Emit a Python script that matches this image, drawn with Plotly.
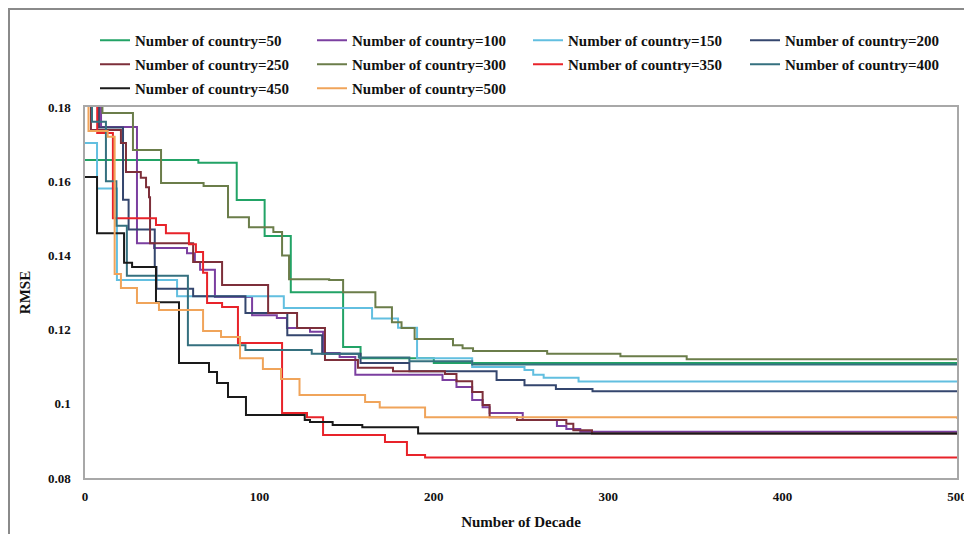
import plotly.graph_objects as go

# ---- data ----
x_50 = [0, 65, 87, 103, 118, 148, 158, 200, 500]
y_50 = [0.1657, 0.165, 0.1549, 0.1452, 0.1301, 0.1153, 0.1123, 0.111, 0.111]

x_100 = [0, 9.2, 29.8, 39.6, 58.5, 63, 66, 74.5, 95.8, 110, 115.8, 129, 136.5, 146, 155,
         205, 213, 222, 228, 232, 251, 270.6, 276, 284, 500]
y_100 = [0.19, 0.1746, 0.1433, 0.142, 0.1406, 0.1382, 0.1361, 0.1288, 0.1239, 0.1231, 0.1204,
         0.1194, 0.1137, 0.1126, 0.1078, 0.1064, 0.1045, 0.101, 0.0991, 0.0975, 0.0956, 0.094,
         0.0932, 0.0925, 0.0925]

x_150 = [0, 6.9, 18.3, 52.8, 114, 164.6, 179.5, 190.4, 222, 252, 257, 263, 283, 500]
y_150 = [0.1703, 0.158, 0.1334, 0.129, 0.1258, 0.123, 0.1205, 0.1123, 0.1099, 0.1091, 0.1078,
         0.107, 0.106, 0.106]

x_200 = [0, 8, 21.8, 25, 40, 41, 62, 92, 116, 136, 158, 186, 236, 252, 270, 291, 500]
y_200 = [0.19, 0.1745, 0.155, 0.147, 0.1369, 0.131, 0.129, 0.1245, 0.1185, 0.1135, 0.111,
         0.1088, 0.1064, 0.105, 0.104, 0.1034, 0.1034]

x_250 = [0, 3.4, 20.6, 23.5, 32, 35, 36.7, 37.3, 62, 78.6, 105, 121.6, 137.6, 156.5, 176.6,
         206.4, 213, 222, 228, 232, 247.7, 276, 280, 290.7, 500]
y_250 = [0.19, 0.1738, 0.1703, 0.1625, 0.1609, 0.1584, 0.1557, 0.1433, 0.1382, 0.132, 0.1245,
         0.1204, 0.1118, 0.1097, 0.1088, 0.108, 0.1061, 0.1032, 0.0997, 0.0964, 0.0956, 0.0946,
         0.0929, 0.092, 0.092]

x_300 = [0, 10, 27.5, 43.6, 68, 82, 94, 108, 113, 117, 140, 148, 166.5, 176, 181.5, 189,
         211, 216.5, 222.5, 265, 307, 345, 500]
y_300 = [0.19, 0.1784, 0.1684, 0.1595, 0.1587, 0.1503, 0.1476, 0.1463, 0.140, 0.1336, 0.1334,
         0.1301, 0.126, 0.122, 0.1204, 0.1175, 0.1158, 0.115, 0.1142, 0.1135, 0.1128, 0.112, 0.112]

x_350 = [0, 7, 16, 40.7, 46.4, 59.6, 63.6, 67.7, 70, 78.6, 87.7, 113, 127.3, 136.5, 172,
         184.6, 195, 500]
y_350 = [0.19, 0.173, 0.150, 0.1482, 0.146, 0.143, 0.1409, 0.1353, 0.1272, 0.1261, 0.1164,
         0.0975, 0.0964, 0.0916, 0.0897, 0.0862, 0.0855, 0.0855]

x_400 = [0, 4, 12, 18, 24, 59, 92, 130, 157, 186, 222, 500]
y_400 = [0.19, 0.176, 0.160, 0.148, 0.1345, 0.1158, 0.1145, 0.1135, 0.1125, 0.1115, 0.1106, 0.1106]

x_450 = [0, 6.9, 22.4, 27, 40.7, 53.9, 71.1, 75.7, 82, 92.3, 126, 129, 142, 159, 191, 500]
y_450 = [0.1611, 0.146, 0.138, 0.1369, 0.1274, 0.111, 0.1086, 0.1056, 0.1018, 0.097, 0.0956,
         0.0951, 0.0943, 0.0937, 0.092, 0.092]

x_500 = [0, 2, 13, 17, 20.6, 29.8, 42.4, 67.7, 78, 88.9, 102, 112.4, 123, 160.6, 169, 195, 500]
y_500 = [0.19, 0.1735, 0.172, 0.135, 0.1312, 0.1272, 0.1253, 0.1196, 0.118, 0.1123, 0.1094,
         0.1067, 0.1024, 0.1005, 0.099, 0.0964, 0.096]

names = ["Number of country=50", "Number of country=100", "Number of country=150",
         "Number of country=200", "Number of country=250", "Number of country=300",
         "Number of country=350", "Number of country=400", "Number of country=450",
         "Number of country=500"]

x_ticks = [0, 100, 200, 300, 400, 500]
y_ticks = [0.08, 0.1, 0.12, 0.14, 0.16, 0.18]

# ---- styling ----
series = [
    (x_50, y_50, "#22a366"),
    (x_100, y_100, "#7b3fa0"),
    (x_150, y_150, "#62bfe0"),
    (x_200, y_200, "#34466e"),
    (x_250, y_250, "#7d2f3a"),
    (x_300, y_300, "#6b7d4a"),
    (x_350, y_350, "#e8232a"),
    (x_400, y_400, "#35707f"),
    (x_450, y_450, "#1a1a1a"),
    (x_500, y_500, "#f0a45a"),
]
legend_ids = ["legend", "legend2", "legend3", "legend4"]

FONT = "Liberation Serif"
fig = go.Figure()
for i, ((xs, ys, col), nm) in enumerate(zip(series, names)):
    fig.add_trace(go.Scatter(
        x=xs, y=ys, mode="lines", name=nm, line=dict(color=col, width=2, shape="hv"),
        legend=legend_ids[i % 4], legendgroup=nm,
    ))

# page geometry: the page body has an 8px margin, so the figure starts at (8, 8)
OFF = 8
PAGE_W, PAGE_H = 972, 534
W, H = PAGE_W - OFF, PAGE_H - OFF
# target plot area in page pixels
P_L, P_R, P_T, P_B = 85, 957, 107, 478
L, R, T, B = P_L - OFF, W - (P_R - OFF), P_T - OFF, H - (P_B - OFF)
pw, ph = P_R - P_L, P_B - P_T

def px_to_paper_x(px):
    return (px - P_L) / pw

def py_to_paper_y(py):
    return (P_B - py) / ph

col_left = [95, 312, 528, 745]
legend_top = 24
leg_common = dict(
    yanchor="top", xanchor="left", bgcolor="rgba(0,0,0,0)",
    font=dict(family=FONT, size=15, color="#111", weight="bold"),
    itemwidth=30, tracegroupgap=1.5, traceorder="grouped",
)
layout_legends = {}
for lid, cx in zip(legend_ids, col_left):
    layout_legends[lid] = dict(x=px_to_paper_x(cx), y=py_to_paper_y(legend_top), **leg_common)

fig.update_layout(
    width=W, height=H,
    margin=dict(l=L, r=R, t=T, b=B, autoexpand=False),
    paper_bgcolor="white", plot_bgcolor="white",
    font=dict(family=FONT, color="#111"),
    showlegend=True,
    **layout_legends,
    xaxis=dict(
        range=[0, 500], tickvals=x_ticks, showgrid=False, zeroline=False,
        showline=True, mirror=True, linecolor="#a8a8a8", linewidth=1.5,
        ticks="", ticklabelstandoff=6, automargin=False,
        tickfont=dict(family=FONT, size=13, color="#111", weight="bold"),
        title=dict(text="<b>Number of Decade</b>", font=dict(family=FONT, size=15, color="#111"),
                   standoff=13),
    ),
    yaxis=dict(
        range=[0.08, 0.18], tickvals=y_ticks, showgrid=False, zeroline=False,
        showline=True, mirror=True, linecolor="#a8a8a8", linewidth=1.5,
        ticks="", ticklabelstandoff=10, automargin=False,
        tickfont=dict(family=FONT, size=13, color="#111", weight="bold"),
        title=dict(text="<b>RMSE</b>", font=dict(family=FONT, size=15, color="#111"),
                   standoff=14),
    ),
)

# outer frame of the whole chart
fig.add_shape(type="rect", xref="paper", yref="paper",
              x0=px_to_paper_x(9), x1=px_to_paper_x(967),
              y0=py_to_paper_y(545), y1=py_to_paper_y(9),
              line=dict(color="#8a8a8a", width=2), fillcolor="rgba(0,0,0,0)", layer="below")

fig.write_html("out.html")
